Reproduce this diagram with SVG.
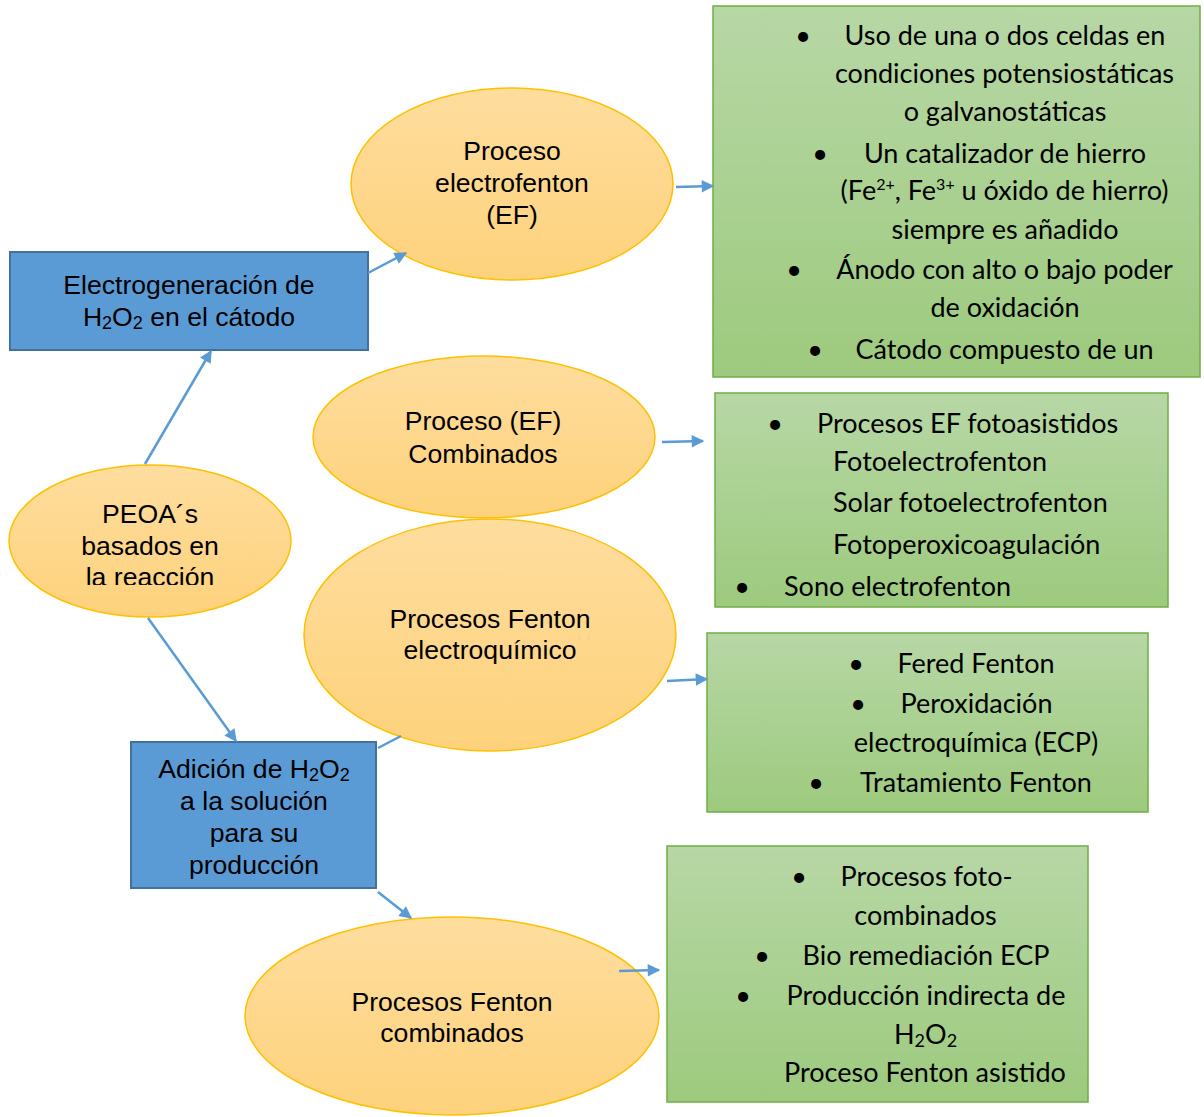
<svg xmlns="http://www.w3.org/2000/svg" width="1204" height="1117" viewBox="0 0 1204 1117">
<defs>
<linearGradient id="gOr" x1="0" y1="0" x2="0" y2="1"><stop offset="0" stop-color="#fedd9e"/><stop offset="1" stop-color="#fed27c"/></linearGradient>
<linearGradient id="gGr" x1="0" y1="0" x2="0" y2="1"><stop offset="0" stop-color="#b7d7a5"/><stop offset="1" stop-color="#9dca7e"/></linearGradient>
<marker id="ah" viewBox="0 0 10 10" refX="9" refY="5" markerWidth="5.5" markerHeight="5" markerUnits="strokeWidth" orient="auto"><path d="M0,0 L10,5 L0,10 Z" fill="#5b9bd5"/></marker>
<clipPath id="clipPeoa"><rect x="0" y="460" width="300" height="125"/></clipPath>
</defs>
<style>
.ell{fill:url(#gOr);stroke:#ffc000;stroke-width:1.5}
.grn{fill:url(#gGr);stroke:#70ad47;stroke-width:1.5}
.blu{fill:#5b9bd5;stroke:#41719c;stroke-width:2}
.ta{font-family:"Liberation Sans",Arial,sans-serif;font-size:26.6px;fill:#000;text-anchor:middle}
.tc{font-family:Lato,"Open Sans",sans-serif;font-size:27px;fill:#000}
.m{text-anchor:middle}
.con line{stroke:#5b9bd5;stroke-width:2.5;fill:none}
</style>
<rect width="1204" height="1117" fill="#fff"/>

<g id="box-ef-detalles">
<rect class="grn" x="713" y="6" width="487" height="371"/>
<g class="tc">
<text x="803" y="45" class="m">•</text>
<text x="1005" y="45" class="m">Uso de una o dos celdas en</text>
<text x="1004.5" y="83" class="m">condiciones potensiostáticas</text>
<text x="1005" y="121" class="m">o galvanostáticas</text>
<text x="820" y="163" class="m">•</text>
<text x="1005" y="163" class="m">Un catalizador de hierro</text>
<text x="1004.5" y="200" class="m">(Fe<tspan font-size="16" dy="-10">2+</tspan><tspan dy="10">, Fe</tspan><tspan font-size="16" dy="-10">3+</tspan><tspan dy="10"> u óxido de hierro)</tspan></text>
<text x="1005" y="239" class="m">siempre es añadido</text>
<text x="794" y="279" class="m">•</text>
<text x="1004.5" y="279" class="m">Ánodo con alto o bajo poder</text>
<text x="1005" y="317" class="m">de oxidación</text>
<text x="815" y="359" class="m">•</text>
<text x="1004.5" y="359" class="m">Cátodo compuesto de un</text>
</g>
</g>

<g id="box-ef-combinados-detalles">
<rect class="grn" x="715" y="393" width="453" height="214"/>
<g class="tc">
<text x="775" y="433" class="m">•</text>
<text x="817" y="433">Procesos EF fotoasistidos</text>
<text x="833" y="471">Fotoelectrofenton</text>
<text x="833" y="512">Solar fotoelectrofenton</text>
<text x="833" y="554">Fotoperoxicoagulación</text>
<text x="742" y="596" class="m">•</text>
<text x="784" y="596">Sono electrofenton</text>
</g>
</g>

<g id="box-fenton-electroquimico-detalles">
<rect class="grn" x="707" y="633" width="441" height="179"/>
<g class="tc">
<text x="856" y="673" class="m">•</text>
<text x="976" y="673" class="m">Fered Fenton</text>
<text x="858" y="713" class="m">•</text>
<text x="976.5" y="713" class="m">Peroxidación</text>
<text x="976" y="752" class="m">electroquímica (ECP)</text>
<text x="816" y="792" class="m">•</text>
<text x="976" y="792" class="m">Tratamiento Fenton</text>
</g>
</g>

<g id="box-fenton-combinados-detalles">
<rect class="grn" x="667" y="846" width="421" height="256"/>
<g class="tc">
<text x="799" y="886" class="m">•</text>
<text x="926.5" y="886" class="m">Procesos foto-</text>
<text x="925.5" y="925" class="m">combinados</text>
<text x="762" y="965" class="m">•</text>
<text x="926" y="965" class="m">Bio remediación ECP</text>
<text x="743" y="1005" class="m">•</text>
<text x="926" y="1005" class="m">Producción indirecta de</text>
<text x="925.5" y="1044" class="m">H<tspan font-size="18" dy="3">2</tspan><tspan dy="-3">O</tspan><tspan font-size="18" dy="3">2</tspan></text>
<text x="925" y="1082" class="m">Proceso Fenton asistido</text>
</g>
</g>

<g id="node-electrogeneracion">
<rect class="blu" x="10" y="252" width="358" height="98"/>
<text class="ta" x="189" y="294">Electrogeneración de</text>
<text class="ta" x="189" y="326">H<tspan font-size="18" dy="3">2</tspan><tspan dy="-3">O</tspan><tspan font-size="18" dy="3">2</tspan><tspan dy="-3"> en el cátodo</tspan></text>
</g>

<g id="node-ef">
<ellipse class="ell" cx="512" cy="184" rx="161" ry="96"/>
<text class="ta" x="512" y="160">Proceso</text>
<text class="ta" x="512" y="192">electrofenton</text>
<text class="ta" x="512" y="224">(EF)</text>
</g>

<g id="node-ef-combinados">
<ellipse class="ell" cx="484" cy="437" rx="171" ry="81"/>
<text class="ta" x="483" y="430">Proceso (EF)</text>
<text class="ta" x="483" y="463">Combinados</text>
</g>

<g id="node-peoa">
<ellipse class="ell" cx="150" cy="541" rx="141" ry="76"/>
<g clip-path="url(#clipPeoa)">
<text class="ta" x="150" y="523">PEOA´s</text>
<text class="ta" x="150" y="555">basados en</text>
<text class="ta" x="150" y="586">la reacción</text>
</g>
</g>

<g id="node-fenton-electroquimico">
<ellipse class="ell" cx="490" cy="635" rx="186" ry="116"/>
<text class="ta" x="490" y="628">Procesos Fenton</text>
<text class="ta" x="490" y="659">electroquímico</text>
</g>

<g id="node-adicion">
<rect class="blu" x="131" y="742" width="245" height="146"/>
<text class="ta" x="254" y="778">Adición de H<tspan font-size="18" dy="3">2</tspan><tspan dy="-3">O</tspan><tspan font-size="18" dy="3">2</tspan></text>
<text class="ta" x="254" y="810">a la solución</text>
<text class="ta" x="254" y="842">para su</text>
<text class="ta" x="254" y="874">producción</text>
</g>

<g id="node-fenton-combinados">
<ellipse class="ell" cx="452" cy="1016" rx="207" ry="99"/>
<text class="ta" x="452" y="1011">Procesos Fenton</text>
<text class="ta" x="452" y="1042">combinados</text>
</g>

<g id="connectors" class="con">
<line x1="145" y1="464" x2="211" y2="351" marker-end="url(#ah)"/>
<line x1="368" y1="273" x2="406" y2="253" marker-end="url(#ah)"/>
<line x1="676" y1="187" x2="713" y2="186" marker-end="url(#ah)"/>
<line x1="662" y1="442" x2="703" y2="441" marker-end="url(#ah)"/>
<line x1="667" y1="681" x2="707" y2="679" marker-end="url(#ah)"/>
<line x1="619" y1="971" x2="659" y2="970" marker-end="url(#ah)"/>
<line x1="148" y1="618" x2="236" y2="741" marker-end="url(#ah)"/>
<line x1="378" y1="748" x2="401" y2="736"/>
<line x1="378" y1="892" x2="411" y2="918" marker-end="url(#ah)"/>
</g>
</svg>
